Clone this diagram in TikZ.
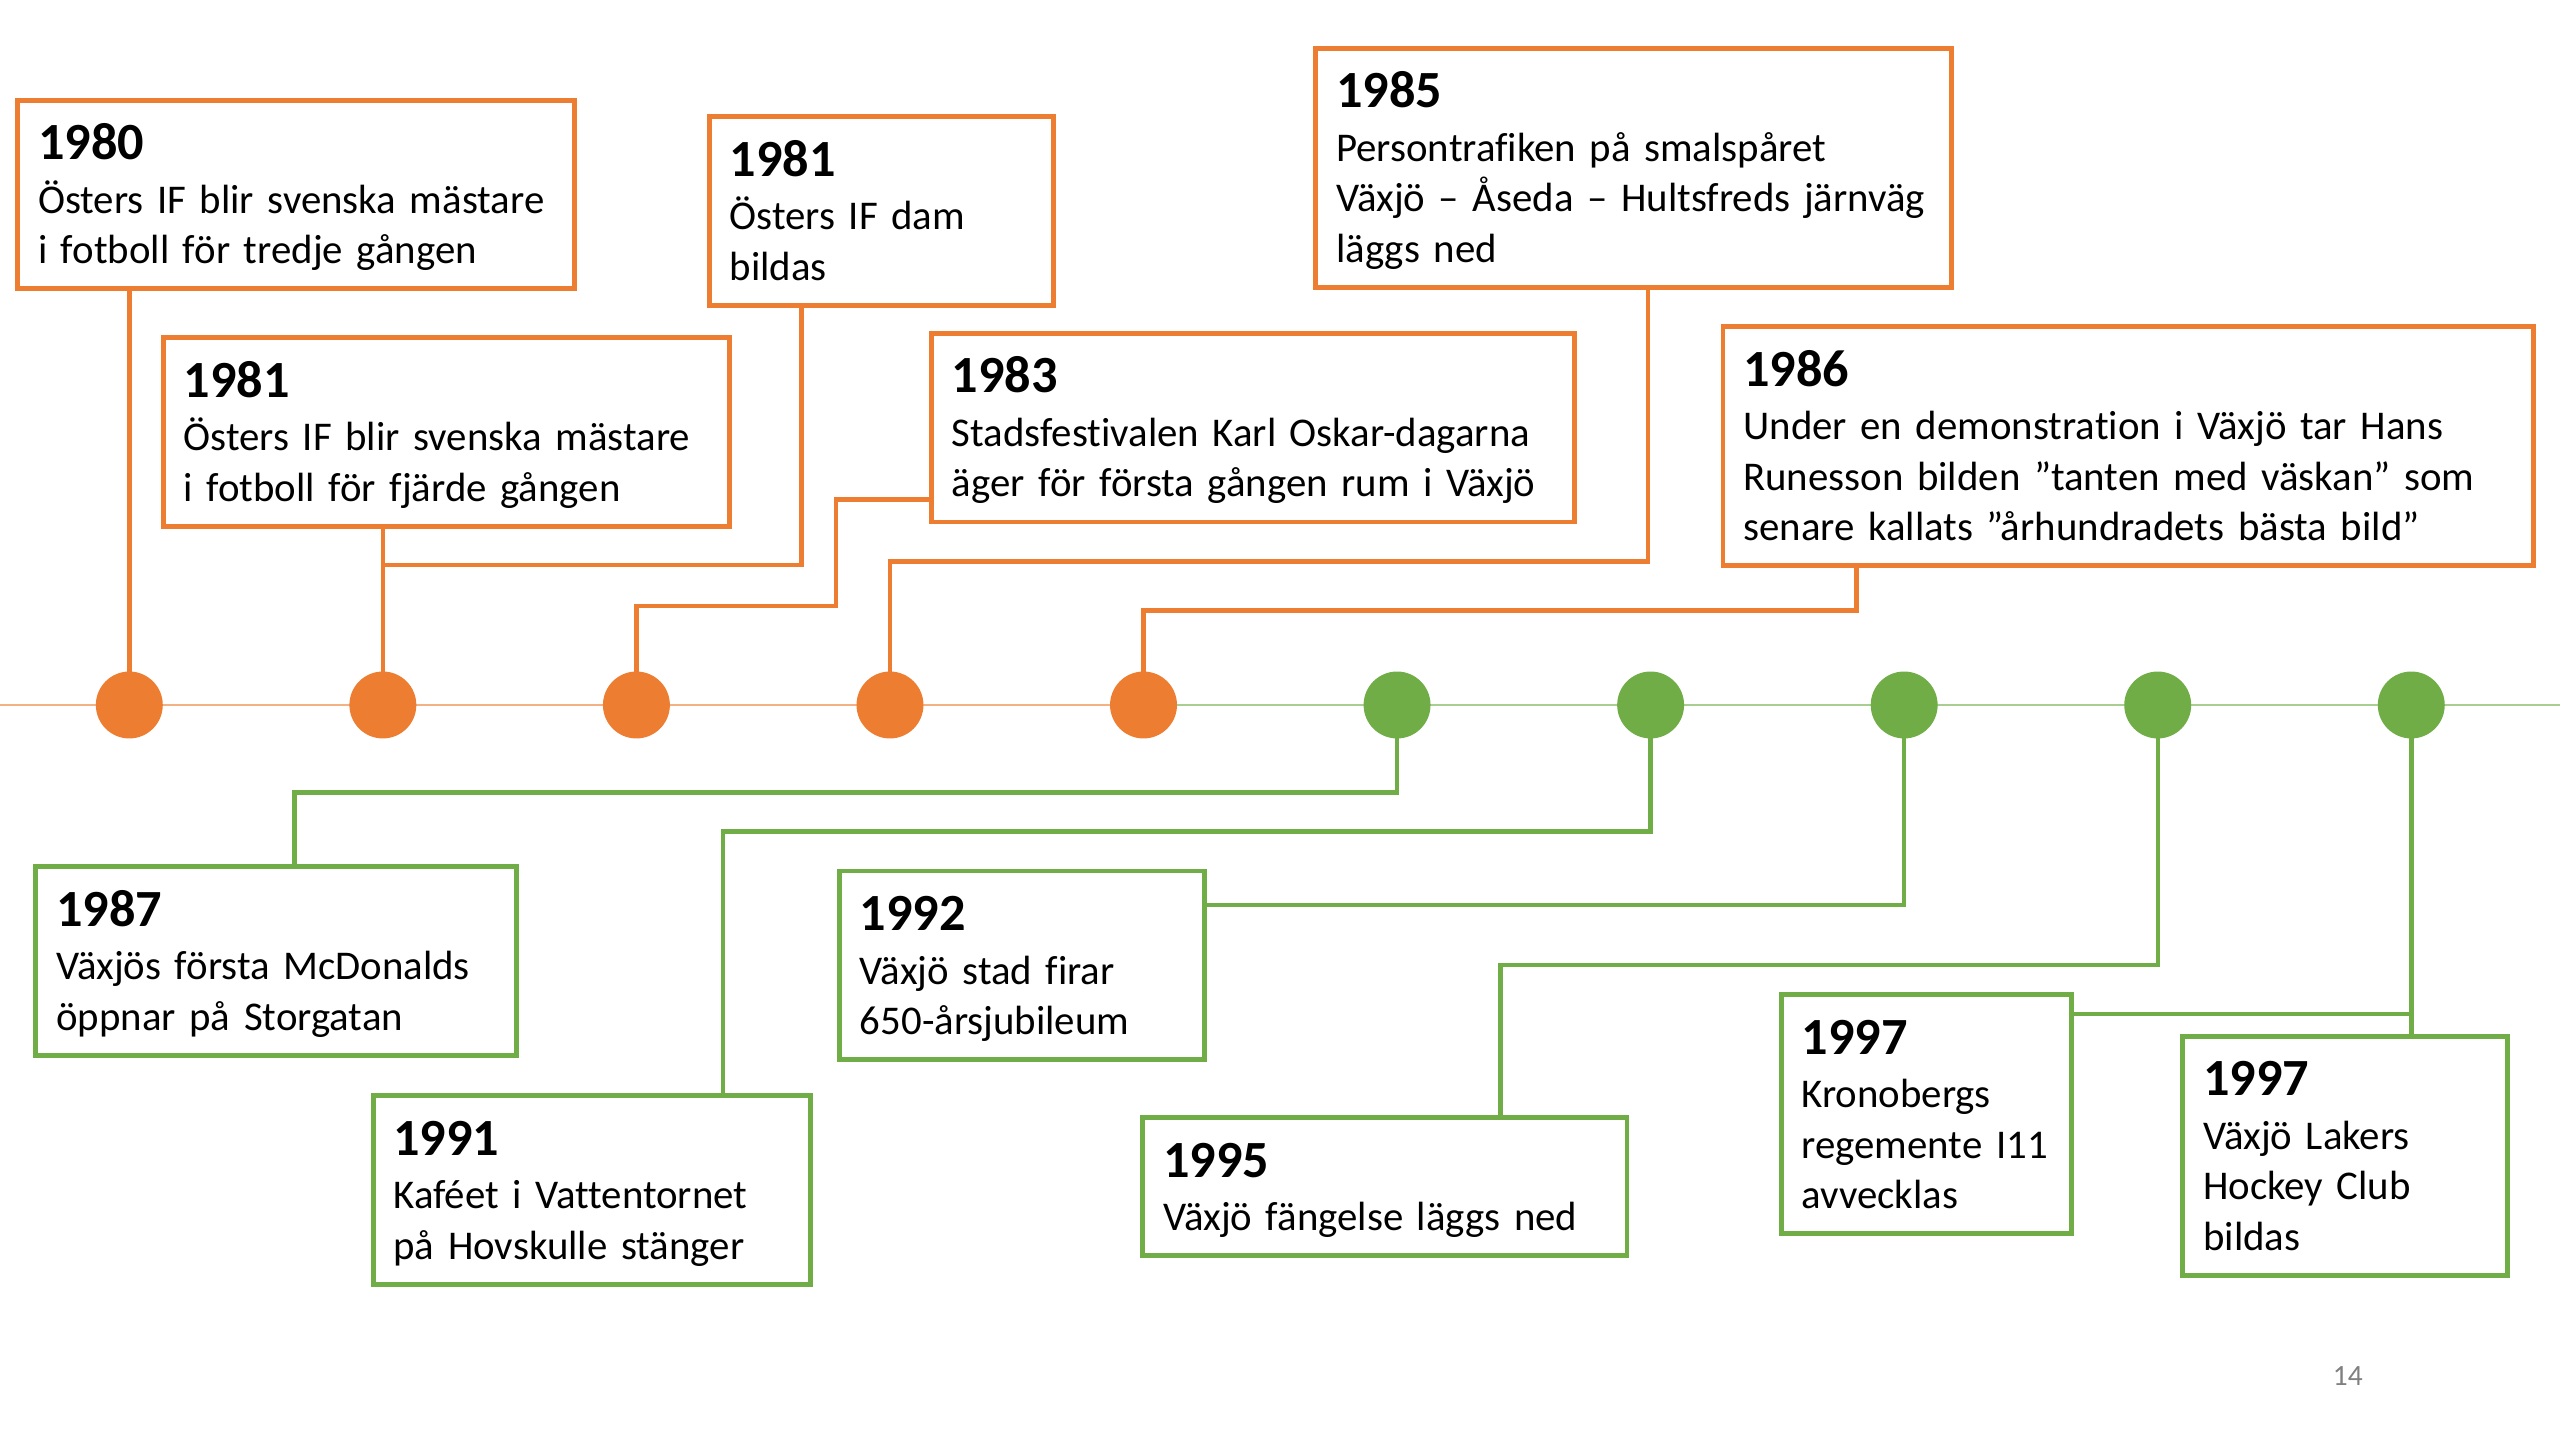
\documentclass[tikz,border=0pt]{standalone}
\usepackage{fontspec}
\setmainfont{Carlito}[Ligatures=NoCommon]
\usepackage{tikz}
\usetikzlibrary{positioning,calc}
\definecolor{vorange}{HTML}{ED7D31}
\definecolor{vgreen}{HTML}{70AD47}
\colorlet{lightorange}{vorange!60}
\colorlet{lightgreen}{vgreen!60}
\newcommand{\yearfont}{\fontsize{32}{34}\selectfont\bfseries}
\newcommand{\evt}[2]{\begin{tabular}{@{}l@{}}\rule{0pt}{30.5pt}{\yearfont #1}\\[1.7pt]#2\end{tabular}}

\begin{document}
\begin{tikzpicture}[x=1pt, y=-1pt, event/.style={rectangle, draw=#1, line width=3pt, fill=white, anchor=north west, outer sep=0pt, inner xsep=12.5pt, inner ysep=6pt, align=left, font=\fontsize{25}{31}\selectfont}, dot/.style={circle, fill=#1, minimum size=41pt, inner sep=0pt, outer sep=0pt}, link/.style={draw=#1, line width=2.7pt}]
\useasboundingbox (0,0) rectangle (1568,882);

% TIMELINE

\coordinate (tlstart) at (0,431.8);
\coordinate (tlmid) at (700.4,431.8);
\coordinate (tlend) at (1568,431.8);
\draw [lightorange, line width=1.2pt] (tlstart) -- (tlmid);
\draw [lightgreen, line width=1.2pt] (tlmid) -- (tlend);

\node [dot=vorange] (c1) at (79.2,431.8) {};
\node [dot=vorange] (c2) at (234.5,431.8) {};
\node [dot=vorange] (c3) at (389.8,431.8) {};
\node [dot=vorange] (c4) at (545.1,431.8) {};
\node [dot=vorange] (c5) at (700.4,431.8) {};
\node [dot=vgreen] (c6) at (855.7,431.8) {};
\node [dot=vgreen] (c7) at (1011,431.8) {};
\node [dot=vgreen] (c8) at (1166.3,431.8) {};
\node [dot=vgreen] (c9) at (1321.6,431.8) {};
\node [dot=vgreen] (c10) at (1476.9,431.8) {};

% EVENTS

\node [event=vorange, text width=316pt] (b1980) at (10.8,61.3)
{\evt{1980}{Östers IF blir svenska mästare\\ i fotboll för tredje gången}};

\node [event=vorange, text width=322pt] (b1981) at (100,206.8)
{\evt{1981}{Östers IF blir svenska mästare\\ i fotboll för fjärde gången}};

\node [event=vorange, text width=186pt] (b1981dam) at (434.4,71.5)
{\evt{1981}{Östers IF dam\\ bildas}};

\node [event=vorange, text width=369pt] (b1983) at (570.5,204.2)
{\evt{1983}{Stadsfestivalen Karl Oskar-dagarna\\ äger för första gången rum i Växjö}};

\node [event=vorange, text width=364.5pt] (b1985) at (806,29.6)
{\evt{1985}{Persontrafiken på smalspåret\\ Växjö – Åseda – Hultsfreds järnväg\\ läggs ned}};

\node [event=vorange, text width=471.7pt] (b1986) at (1055.3,200)
{\evt{1986}{Under en demonstration i Växjö tar Hans\\ Runesson bilden ”tanten med väskan” som\\ senare kallats ”århundradets bästa bild”}};

\node [event=vgreen, text width=269.4pt] (b1987) at (22,530.8)
{\evt{1987}{Växjös första McDonalds\\ öppnar på Storgatan}};

\node [event=vgreen, text width=243pt] (b1991) at (228.5,671)
{\evt{1991}{Kaféet i Vattentornet\\ på Hovskulle stänger}};

\node [event=vgreen, text width=198.8pt] (b1992) at (514.2,533.5)
{\evt{1992}{Växjö stad firar\\ 650-årsjubileum}};

\node [event=vgreen, text width=271.5pt] (b1995) at (700,684.6)
{\evt{1995}{Växjö fängelse läggs ned}};

\node [event=vgreen, text width=153pt] (b1997reg) at (1091,609.2)
{\evt{1997}{Kronobergs\\ regemente I11\\ avvecklas}};

\node [event=vgreen, text width=174pt] (b1997lak) at (1337,634.6)
{\evt{1997}{Växjö Lakers\\ Hockey Club\\ bildas}};

\node [text=gray, font=\fontsize{18}{20}\selectfont] (pagenr) at (1438,843) {14};

% CONNECTORS

\coordinate (k1981) at (491,346);
\coordinate (k1983a) at (512,306);
\coordinate (k1983b) at (512,371);
\coordinate (k1985) at (1009.5,344);
\coordinate (k1986) at (1137,374);
\coordinate (k1987) at (180.5,485.5);
\coordinate (k1991) at (443,509.3);
\coordinate (k1992) at (1166.3,554.3);
\coordinate (k1995) at (919,591);
\coordinate (k1997) at (1476.9,621);

\path [link=vorange] (b1980.south -| c1) -- (c1);
\path [link=vorange] (b1981.south -| c2) -- (c2);
\path [link=vorange] (b1981dam.south -| k1981) -- (k1981) -- (k1981 -| c2);
\path [link=vorange] (b1983.west |- k1983a) -- (k1983a) -- (k1983b) -- (k1983b -| c3) -- (c3);
\path [link=vorange] (b1985.south -| k1985) -- (k1985) -- (k1985 -| c4) -- (c4);
\path [link=vorange] (b1986.south -| k1986) -- (k1986) -- (k1986 -| c5) -- (c5);

\path [link=vgreen] (c6) -- (c6 |- k1987) -- (k1987) -- (k1987 |- b1987.north);
\path [link=vgreen] (c7) -- (c7 |- k1991) -- (k1991) -- (k1991 |- b1991.north);
\path [link=vgreen] (c8) -- (k1992) -- (k1992 -| b1992.east);
\path [link=vgreen] (c9) -- (c9 |- k1995) -- (k1995) -- (k1995 |- b1995.north);
\path [link=vgreen] (c10) -- (c10 |- b1997lak.north);
\path [link=vgreen] (b1997reg.east |- k1997) -- (k1997);

\end{tikzpicture}
\end{document}
